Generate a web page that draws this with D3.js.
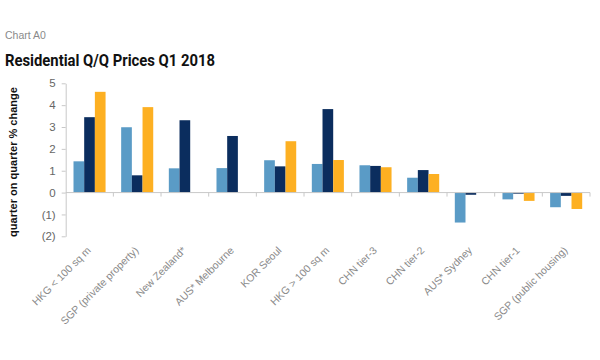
<!DOCTYPE html>
<html><head><meta charset="utf-8">
<script src="https://cdn.jsdelivr.net/npm/d3@7"></script>
<style>body{margin:0;background:#fff;} svg{display:block;font-family:"Liberation Sans",Arial,sans-serif;}</style>
</head><body>
<svg id="c" width="600" height="360"></svg>
<script>
const categories = ["HKG < 100 sq m","SGP (private property)","New Zealand*","AUS* Melbourne","KOR Seoul","HKG > 100 sq m","CHN tier-3","CHN tier-2","AUS* Sydney","CHN tier-1","SGP (public housing)"];
const seriesA = [1.43, 2.99, 1.11, 1.12, 1.48, 1.31, 1.25, 0.68, -1.37, -0.31, -0.67];
const seriesB = [3.45, 0.79, 3.31, 2.59, 1.20, 3.82, 1.22, 1.03, -0.10, -0.05, -0.15];
const seriesC = [4.61, 3.91, null, null, 2.35, 1.49, 1.16, 0.85, null, -0.38, -0.75];
const yTicks = [-2,-1,0,1,2,3,4,5];
const colors = ["#5a9bc6","#0b2d5e","#fdb022"];

const svg = d3.select("#c");
svg.append("text").attr("x",5).attr("y",39).attr("fill","#8a8a8a").attr("font-size",10.5).text("Chart A0");
svg.append("text").attr("x",5).attr("y",66).attr("fill","#111").attr("font-size",16).attr("font-weight","bold")
  .attr("font-family","Roboto, sans-serif").attr("textLength",210).attr("lengthAdjust","spacingAndGlyphs")
  .text("Residential Q/Q Prices Q1 2018");

const x = d3.scaleBand().domain(categories).range([65.7,590]).paddingInner(0).paddingOuter(0);
const y = d3.scaleLinear().domain([-2,5]).range([236.3,83.3]);
const series = [seriesA, seriesB, seriesC];
const xs = d3.scaleBand().domain([0,1,2]).range([0,x.bandwidth()]).paddingOuter(0.73).paddingInner(0);

const g = svg.append("g");
series.forEach((s,si)=>{
  g.selectAll(null).data(categories.map((c,i)=>({c,v:s[i]})).filter(d=>d.v!==null)).enter().append("rect")
    .attr("x",d=>x(d.c)+xs(si)).attr("width",xs.bandwidth())
    .attr("y",d=>y(Math.max(0,d.v))).attr("height",d=>Math.abs(y(d.v)-y(0)))
    .attr("fill",colors[si]);
});

const fmt = v => v<0 ? "("+(-v)+")" : ""+v;
const ya = svg.append("g").attr("transform","translate(65.7,0)")
  .call(d3.axisLeft(y).tickValues(yTicks).tickFormat(fmt).tickSize(4).tickSizeOuter(0).tickPadding(6));
ya.select(".domain").attr("stroke","#c8c8c8");
ya.selectAll(".tick line").attr("stroke","#c8c8c8");
ya.selectAll(".tick text").attr("fill","#666").attr("font-size",11.5).attr("font-family","Liberation Sans, Arial, sans-serif");

const xa = svg.append("g").attr("transform","translate(0,"+y(0)+")");
xa.append("line").attr("x1",65.7).attr("x2",590).attr("stroke","#c8c8c8");
xa.selectAll(".tk").data(categories).enter().append("line")
  .attr("x1",d=>x(d)+x.bandwidth()).attr("x2",d=>x(d)+x.bandwidth()).attr("y1",0).attr("y2",4).attr("stroke","#c8c8c8");

svg.append("g").selectAll("text").data(categories).enter().append("text")
  .attr("transform",d=>"translate("+(x(d)+x.bandwidth()/2+2)+",251) rotate(-45)")
  .attr("text-anchor","end").attr("fill","#8a8a8a").attr("font-size",10.5).text(d=>d);

svg.append("text").attr("transform","translate(17,162) rotate(-90)").attr("text-anchor","middle")
  .attr("fill","#111").attr("font-size",11).attr("font-weight","bold").text("quarter on quarter % change");
</script>
</body></html>
